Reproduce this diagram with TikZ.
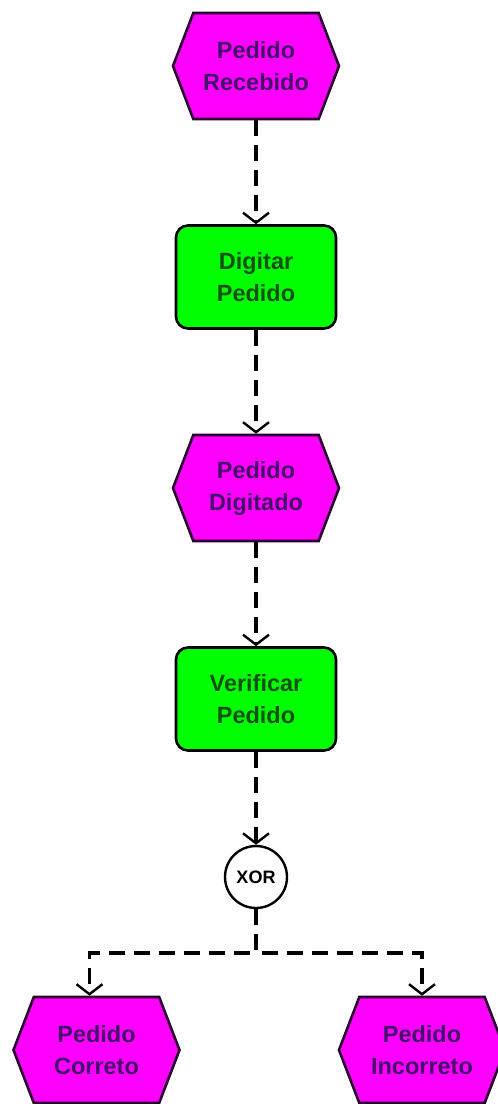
\documentclass[tikz,border=0pt]{standalone}
\usepackage{fontspec}
\setmainfont{Liberation Sans}
\usetikzlibrary{shapes.symbols,arrows.meta}
\definecolor{evfill}{HTML}{FF00FF}
\definecolor{evtext}{HTML}{44106A}
\definecolor{evline}{HTML}{2A0030}
\definecolor{fnfill}{HTML}{00FF00}
\definecolor{fntext}{HTML}{125012}
\begin{document}
\begin{tikzpicture}[x=1pt,y=-1pt,
  label font/.style={font=\bfseries\fontsize{23.5}{32}\selectfont},
  event/.style={signal, signal to=west and east, signal pointer angle=138,
    fill=evfill, draw=evline, line width=2.6pt,
    minimum width=166pt, minimum height=106pt, inner sep=0pt,
    text=evtext, label font, align=center},
  func/.style={rectangle, rounded corners=12pt, fill=fnfill, draw=black,
    line width=2.6pt, minimum width=160pt, minimum height=103pt,
    inner sep=0pt, text=fntext, label font, align=center},
  gate/.style={circle, draw=black, fill=white, line width=2.4pt,
    minimum size=62pt, inner sep=0pt,
    font=\bfseries\fontsize{18}{18}\selectfont},
  flow/.style={draw=black, line width=3.2pt, dash pattern=on 16pt off 9pt,
    -{Straight Barb[length=10pt,width=26pt,line width=2.4pt]}},
]
\useasboundingbox (0,0) rectangle (498,1104);
\clip (0,0) rectangle (498,1104);

% process chain
\node[event] (e1) at (256,66)  {Pedido\\Recebido};
\node[func]  (f1) at (256,277) {Digitar\\Pedido};
\node[event] (e2) at (256,488) {Pedido\\Digitado};
\node[func]  (f2) at (256,699) {Verificar\\Pedido};
\node[gate]  (x)  at (256,877) {XOR};
\node[event] (e3) at (96.5,1050) {Pedido\\Correto};
\node[event] (e4) at (422,1050)  {Pedido\\Incorreto};
\coordinate (split) at (256,953);

% control flow
\draw[flow] (e1.south) -- (f1.north);
\draw[flow] (f1.south) -- (e2.north);
\draw[flow] (e2.south) -- (f2.north);
\draw[flow] (f2.south) -- (x.north);
\draw[flow] (x.south) -- (split) -| ([xshift=-7pt]e3.north);
\draw[flow] (x.south) -- (split) -| (e4.north);
\end{tikzpicture}
\end{document}
